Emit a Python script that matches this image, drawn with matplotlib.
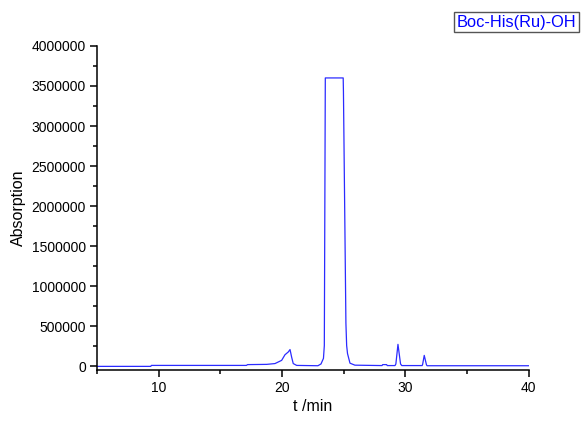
import matplotlib
matplotlib.use('Agg')
import matplotlib.pyplot as plt
from matplotlib.ticker import MultipleLocator, FormatStrFormatter

plt.rcParams['font.family'] = ['Liberation Sans', 'DejaVu Sans']

# retention time (min) and signal
t_min = [5.0, 9.35, 9.4, 17.1, 17.2, 18.75, 19.42, 19.96, 20.23, 20.5, 20.64,
         20.77, 20.9, 21.18, 22.9, 23.15, 23.35, 23.42, 23.5, 24.95, 24.97,
         25.09, 25.17, 25.23, 25.3, 25.5, 25.9, 28.1, 28.15, 28.47, 28.52,
         29.15, 29.22, 29.39, 29.6, 29.7, 31.35, 31.39, 31.52, 31.7, 31.75, 40.0]
signal = [0, 0, 12000, 12000, 22000, 25000, 35000, 75000, 145000, 180000, 210000,
          115000, 35000, 12000, 8000, 30000, 100000, 260000, 3600000, 3600000, 3430000,
          1700000, 540000, 260000, 160000, 40000, 15000, 10000, 22000, 22000, 10000,
          10000, 30000, 275000, 30000, 10000, 10000, 25000, 137000, 20000, 8000, 8000]

legend_label = 'Boc-His(Ru)-OH'

fig = plt.figure(figsize=(5.85, 4.21), dpi=100)
ax = fig.add_axes([0.166, 0.121, 0.738, 0.770])

ax.plot(t_min, signal, color='#2b2bff', linewidth=0.9)

ax.set_xlim(5, 40)
ax.set_ylim(-46000, 4000000)
ax.xaxis.set_major_locator(MultipleLocator(10))
ax.xaxis.set_minor_locator(MultipleLocator(5))
ax.yaxis.set_major_locator(MultipleLocator(500000))
ax.yaxis.set_minor_locator(MultipleLocator(250000))
ax.yaxis.set_major_formatter(FormatStrFormatter('%d'))

ax.spines['top'].set_visible(False)
ax.spines['right'].set_visible(False)
for s in ['left', 'bottom']:
    ax.spines[s].set_linewidth(1.1)
ax.tick_params(which='major', direction='out', length=5, width=1.1, labelsize=10, pad=3)
ax.tick_params(which='minor', direction='out', length=3, width=1.1)

ax.set_xlabel('t /min', fontsize=11.5, labelpad=3)
ax.set_ylabel('Absorption', fontsize=11.5, labelpad=4)

fig.text(0.883, 0.947, legend_label, color='blue', fontsize=11.8, ha='center', va='center',
         bbox=dict(boxstyle='square,pad=0.15', facecolor='white', edgecolor='#555555', linewidth=1))

fig.savefig('out.png', dpi=100)
